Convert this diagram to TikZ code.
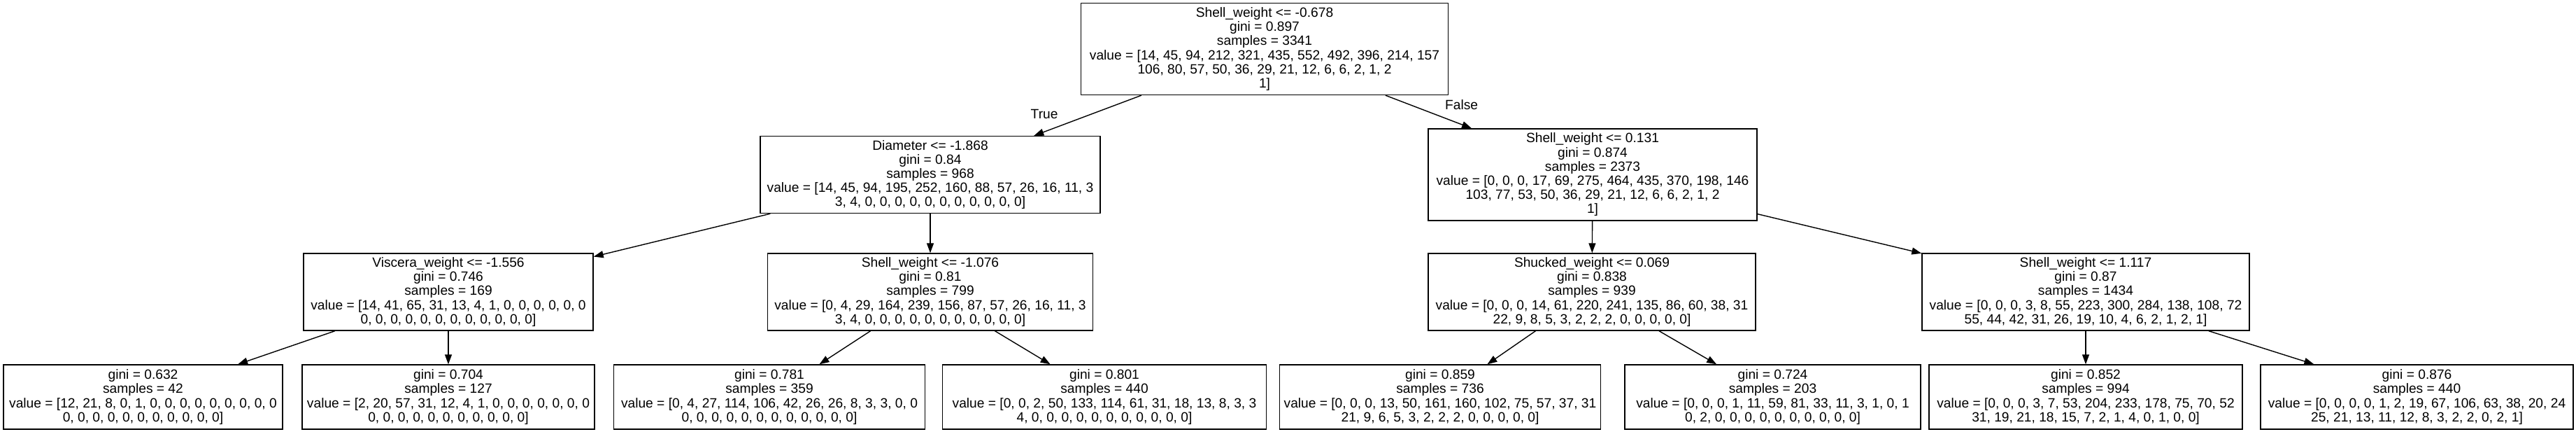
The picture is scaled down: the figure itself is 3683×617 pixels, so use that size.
\documentclass[tikz,border=0pt]{standalone}
\usepackage{fontspec}
\setmainfont{Liberation Sans}
\usepackage{tikz}
\usetikzlibrary{arrows.meta,positioning,shapes}

\begin{document}
\begin{tikzpicture}[x=1pt,y=-1pt,
            treenode/.style={draw,rectangle,line width=1.4pt,align=center,inner xsep=6pt,inner ysep=2pt,font=\fontsize{19.2}{20.2}\selectfont},
            split/.style={treenode,minimum height=110pt},
            bigsplit/.style={treenode,minimum height=131pt},
            leaf/.style={treenode,minimum height=92pt},
            elab/.style={font=\fontsize{19.2}{20.2}\selectfont,inner sep=0pt},
            every edge/.style={draw,line width=1.4pt,-{Triangle[length=14pt,width=10pt]}}
          ]
          \fill[white] (0,0) rectangle (3683,617);

          %root
          \node[bigsplit,minimum width=525pt] (root) at (1808,70) {Shell\_weight <= -0.678\\gini = 0.897\\samples = 3341\\value = [14, 45, 94, 212, 321, 435, 552, 492, 396, 214, 157\\106, 80, 57, 50, 36, 29, 21, 12, 6, 6, 2, 1, 2\\1]};

          %first level
          \node[split,minimum width=486pt,below of = root,node distance=179.5pt,xshift=-478pt] (l) {Diameter <= -1.868\\gini = 0.84\\samples = 968\\value = [14, 45, 94, 195, 252, 160, 88, 57, 26, 16, 11, 3\\3, 4, 0, 0, 0, 0, 0, 0, 0, 0, 0, 0, 0]};
          \node[bigsplit,minimum width=470pt,below of = root,node distance=179.5pt,xshift=469pt] (r) {Shell\_weight <= 0.131\\gini = 0.874\\samples = 2373\\value = [0, 0, 0, 17, 69, 275, 464, 435, 370, 198, 146\\103, 77, 53, 50, 36, 29, 21, 12, 6, 6, 2, 1, 2\\1]};

          %second level
          \node[split,minimum width=414pt,below of = l,node distance=167.5pt,xshift=-689pt] (ll) {Viscera\_weight <= -1.556\\gini = 0.746\\samples = 169\\value = [14, 41, 65, 31, 13, 4, 1, 0, 0, 0, 0, 0, 0\\0, 0, 0, 0, 0, 0, 0, 0, 0, 0, 0, 0]};
          \node[split,minimum width=465pt,below of = l,node distance=167.5pt] (lr) {Shell\_weight <= -1.076\\gini = 0.81\\samples = 799\\value = [0, 4, 29, 164, 239, 156, 87, 57, 26, 16, 11, 3\\3, 4, 0, 0, 0, 0, 0, 0, 0, 0, 0, 0, 0]};
          \node[split,minimum width=468pt,below of = r,node distance=167.5pt,xshift=-1pt] (rl) {Shucked\_weight <= 0.069\\gini = 0.838\\samples = 939\\value = [0, 0, 0, 14, 61, 220, 241, 135, 86, 60, 38, 31\\22, 9, 8, 5, 3, 2, 2, 2, 0, 0, 0, 0, 0]};
          \node[split,minimum width=468pt,below of = r,node distance=167.5pt,xshift=705pt] (rr) {Shell\_weight <= 1.117\\gini = 0.87\\samples = 1434\\value = [0, 0, 0, 3, 8, 55, 223, 300, 284, 138, 108, 72\\55, 44, 42, 31, 26, 19, 10, 4, 6, 2, 1, 2, 1]};

          %leaves
          \node[leaf,minimum width=399pt,below of = ll,node distance=150pt,xshift=-436.5pt] (lll) {gini = 0.632\\samples = 42\\value = [12, 21, 8, 0, 1, 0, 0, 0, 0, 0, 0, 0, 0, 0\\0, 0, 0, 0, 0, 0, 0, 0, 0, 0, 0]};
          \node[leaf,minimum width=418pt,below of = ll,node distance=150pt] (llr) {gini = 0.704\\samples = 127\\value = [2, 20, 57, 31, 12, 4, 1, 0, 0, 0, 0, 0, 0, 0\\0, 0, 0, 0, 0, 0, 0, 0, 0, 0, 0]};
          \node[leaf,minimum width=445pt,below of = lr,node distance=150pt,xshift=-230pt] (lrl) {gini = 0.781\\samples = 359\\value = [0, 4, 27, 114, 106, 42, 26, 26, 8, 3, 3, 0, 0\\0, 0, 0, 0, 0, 0, 0, 0, 0, 0, 0, 0]};
          \node[leaf,minimum width=463pt,below of = lr,node distance=150pt,xshift=249pt] (lrr) {gini = 0.801\\samples = 440\\value = [0, 0, 2, 50, 133, 114, 61, 31, 18, 13, 8, 3, 3\\4, 0, 0, 0, 0, 0, 0, 0, 0, 0, 0, 0]};
          \node[leaf,minimum width=458pt,below of = rl,node distance=150pt,xshift=-217pt] (rll) {gini = 0.859\\samples = 736\\value = [0, 0, 0, 13, 50, 161, 160, 102, 75, 57, 37, 31\\21, 9, 6, 5, 3, 2, 2, 2, 0, 0, 0, 0, 0]};
          \node[leaf,minimum width=423pt,below of = rl,node distance=150pt,xshift=258.5pt] (rlr) {gini = 0.724\\samples = 203\\value = [0, 0, 0, 1, 11, 59, 81, 33, 11, 3, 1, 0, 1\\0, 2, 0, 0, 0, 0, 0, 0, 0, 0, 0, 0]};
          \node[leaf,minimum width=448pt,below of = rr,node distance=150pt] (rrl) {gini = 0.852\\samples = 994\\value = [0, 0, 0, 3, 7, 53, 204, 233, 178, 75, 70, 52\\31, 19, 21, 18, 15, 7, 2, 1, 4, 0, 1, 0, 0]};
          \node[leaf,minimum width=447pt,below of = rr,node distance=150pt,xshift=473.5pt] (rrr) {gini = 0.876\\samples = 440\\value = [0, 0, 0, 0, 1, 2, 19, 67, 106, 63, 38, 20, 24\\25, 21, 13, 11, 12, 8, 3, 2, 2, 0, 2, 1]};

          %edges
          \path
          (root) edge node[elab,pos=0.46,left=48pt] {True} (l)
          (root) edge node[elab,pos=0.28,right=50pt] {False} (r)
          (l) edge (ll)
          (l) edge (lr)
          (r) edge (rl)
          (r) edge (rr)
          (ll) edge (lll)
          (ll) edge (llr)
          (lr) edge (lrl)
          (lr) edge (lrr)
          (rl) edge (rll)
          (rl) edge (rlr)
          (rr) edge (rrl)
          (rr) edge (rrr)
          ;

\end{tikzpicture}
\end{document}
